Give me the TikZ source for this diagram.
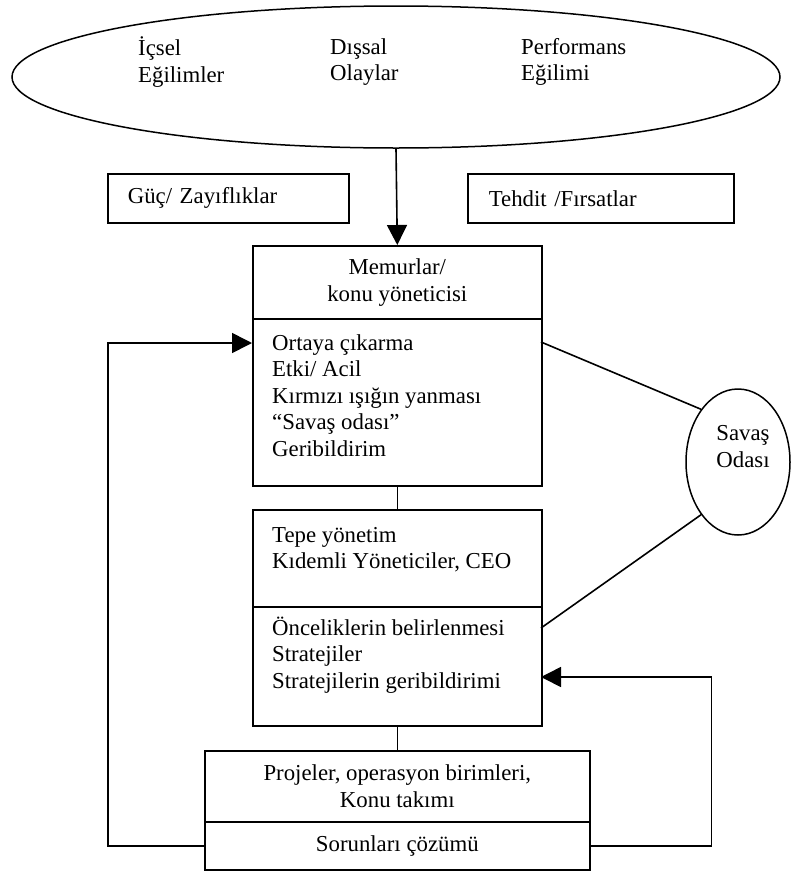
\documentclass[tikz,border=0pt]{standalone}
\usepackage{fontspec}
\setmainfont{Liberation Serif}
\usetikzlibrary{shapes.geometric,arrows.meta}
\begin{document}
\begin{tikzpicture}[x=1pt,y=-1pt,
  every node/.style={font=\fontsize{22.8}{26.5}\selectfont},
  box/.style={draw, line width=1.6pt, inner sep=0pt, anchor=north west},
  oval/.style={draw, ellipse, line width=1.5pt, inner sep=0pt},
  conn/.style={line width=1.6pt},
  arr/.style={line width=1.6pt, -{Triangle[length=20pt,width=20pt]}},
  txt/.style={align=left, inner sep=0pt, anchor=west},
]
\useasboundingbox (0,0) rectangle (796,873);

% top ellipse
\node[oval, minimum width=768, minimum height=142] (ell) at (396,77) {};
\node[txt] (t1) at (138,62) {İçsel\\Eğilimler};
\node[txt] (t2) at (330,62) {Dışsal\\Olaylar};
\node[txt] (t3) at (521,62) {Performans\\Eğilimi};

% side boxes
\node[box, minimum width=241, minimum height=49, text width=201, inner xsep=20, align=left] (guc) at (107,173) {Güç/ Zayıflıklar};
\node[box, minimum width=266, minimum height=49, text width=224, inner xsep=21, align=left] (teh) at (467,173) {Tehdit /Fırsatlar};

% Memurlar
\node[box, minimum width=289, minimum height=73, align=center] (mhead) at (252,245) {Memurlar/\\konu yöneticisi};
\node[box, minimum width=289, minimum height=167] (mbody) at (252,318) {};
\node[txt] (mtext) at (272,395.5) {Ortaya çıkarma\\Etki/ Acil\\Kırmızı ışığın yanması\\“Savaş odası”\\Geribildirim};

% Tepe yonetim
\node[box, minimum width=289, minimum height=97] (thead) at (252,509) {};
\node[txt] (ttext) at (272,549.5) {Tepe yönetim\\Kıdemli Yöneticiler, CEO};
\node[box, minimum width=289, minimum height=119] (tbody) at (252,606) {};
\node[txt] (btext) at (272,655) {Önceliklerin belirlenmesi\\Stratejiler\\Stratejilerin geribildirimi};

% Projeler
\node[box, minimum width=385, minimum height=71, align=center] (phead) at (204,750) {Projeler, operasyon birimleri,\\Konu takımı};
\node[box, minimum width=385, minimum height=48] (sbody) at (204,821) {Sorunları çözümü};

% Savas odasi
\node[oval, minimum width=104, minimum height=146] (savas) at (738,462) {};
\node[align=center, inner sep=0pt] (stext) at (743,446.5) {Savaş\\Odası};

% connectors
\coordinate (min) at (252,343);
\coordinate (mout) at (541,342);
\coordinate (tout) at (541,628);
\coordinate (tin) at (541,677);
\draw[arr] (ell.south) -- (mhead.north);
\draw[conn] (mbody.south) -- (thead.north);
\draw[conn] (tbody.south) -- (phead.north);
\draw[arr] (sbody.west) -- ++(-96,0) |- (min);
\draw[arr] (sbody.east) -- ++(121,0) |- (tin);
\draw[conn] (mout) -- (savas.125);
\draw[conn] (tout) -- (savas.235);
\end{tikzpicture}
\end{document}
